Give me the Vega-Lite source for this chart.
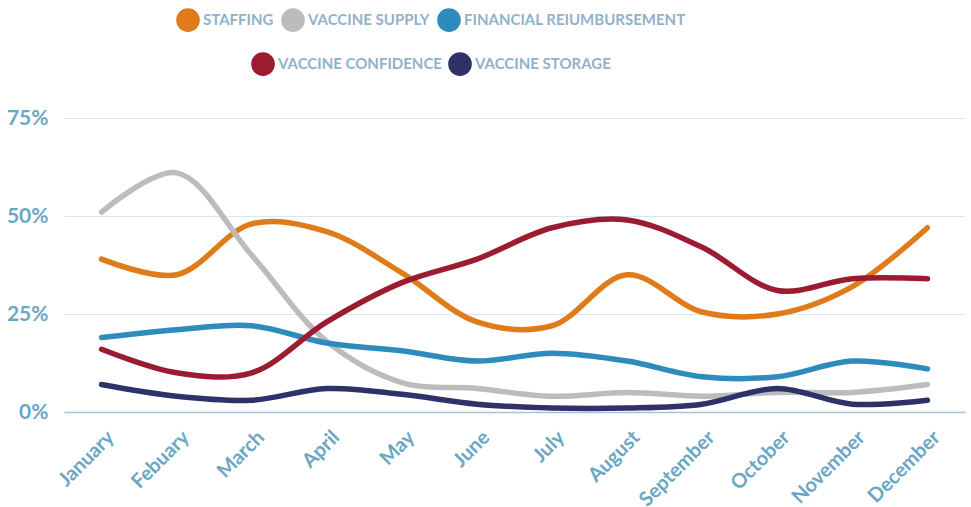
{
  "$schema": "https://vega.github.io/schema/vega-lite/v6.json",
  "width": 901,
  "height": 294,
  "autosize": {"type": "none"},
  "padding": {"left": 64, "top": 118, "right": 6, "bottom": 95},
  "background": "white",
  "config": {
    "font": "Lato",
    "view": {"stroke": null},
    "legend": {
      "labelFont": "Lato",
      "labelFontWeight": "bold",
      "labelFontSize": 15,
      "labelColor": "#8fb2cb",
      "labelLimit": 400,
      "symbolType": "circle",
      "symbolSize": 560,
      "symbolStrokeWidth": 0,
      "symbolOpacity": 1,
      "labelOffset": 3,
      "padding": 0,
      "title": null
    }
  },
  "data": {
    "values": [
      {"month": "January", "series": "STAFFING", "value": 0.39},
      {"month": "Febuary", "series": "STAFFING", "value": 0.35},
      {"month": "March", "series": "STAFFING", "value": 0.48},
      {"month": "April", "series": "STAFFING", "value": 0.46},
      {"month": "May", "series": "STAFFING", "value": 0.355},
      {"month": "June", "series": "STAFFING", "value": 0.23},
      {"month": "July", "series": "STAFFING", "value": 0.22},
      {"month": "August", "series": "STAFFING", "value": 0.35},
      {"month": "September", "series": "STAFFING", "value": 0.255},
      {"month": "October", "series": "STAFFING", "value": 0.25},
      {"month": "November", "series": "STAFFING", "value": 0.32},
      {"month": "December", "series": "STAFFING", "value": 0.47},
      {"month": "January", "series": "VACCINE SUPPLY", "value": 0.51},
      {"month": "Febuary", "series": "VACCINE SUPPLY", "value": 0.61},
      {"month": "March", "series": "VACCINE SUPPLY", "value": 0.40},
      {"month": "April", "series": "VACCINE SUPPLY", "value": 0.18},
      {"month": "May", "series": "VACCINE SUPPLY", "value": 0.075},
      {"month": "June", "series": "VACCINE SUPPLY", "value": 0.06},
      {"month": "July", "series": "VACCINE SUPPLY", "value": 0.04},
      {"month": "August", "series": "VACCINE SUPPLY", "value": 0.05},
      {"month": "September", "series": "VACCINE SUPPLY", "value": 0.04},
      {"month": "October", "series": "VACCINE SUPPLY", "value": 0.05},
      {"month": "November", "series": "VACCINE SUPPLY", "value": 0.05},
      {"month": "December", "series": "VACCINE SUPPLY", "value": 0.07},
      {"month": "January", "series": "FINANCIAL REIUMBURSEMENT", "value": 0.19},
      {"month": "Febuary", "series": "FINANCIAL REIUMBURSEMENT", "value": 0.21},
      {"month": "March", "series": "FINANCIAL REIUMBURSEMENT", "value": 0.22},
      {"month": "April", "series": "FINANCIAL REIUMBURSEMENT", "value": 0.176},
      {"month": "May", "series": "FINANCIAL REIUMBURSEMENT", "value": 0.156},
      {"month": "June", "series": "FINANCIAL REIUMBURSEMENT", "value": 0.13},
      {"month": "July", "series": "FINANCIAL REIUMBURSEMENT", "value": 0.15},
      {"month": "August", "series": "FINANCIAL REIUMBURSEMENT", "value": 0.13},
      {"month": "September", "series": "FINANCIAL REIUMBURSEMENT", "value": 0.09},
      {"month": "October", "series": "FINANCIAL REIUMBURSEMENT", "value": 0.09},
      {"month": "November", "series": "FINANCIAL REIUMBURSEMENT", "value": 0.13},
      {"month": "December", "series": "FINANCIAL REIUMBURSEMENT", "value": 0.11},
      {"month": "January", "series": "VACCINE CONFIDENCE", "value": 0.16},
      {"month": "Febuary", "series": "VACCINE CONFIDENCE", "value": 0.10},
      {"month": "March", "series": "VACCINE CONFIDENCE", "value": 0.10},
      {"month": "April", "series": "VACCINE CONFIDENCE", "value": 0.23},
      {"month": "May", "series": "VACCINE CONFIDENCE", "value": 0.33},
      {"month": "June", "series": "VACCINE CONFIDENCE", "value": 0.39},
      {"month": "July", "series": "VACCINE CONFIDENCE", "value": 0.47},
      {"month": "August", "series": "VACCINE CONFIDENCE", "value": 0.49},
      {"month": "September", "series": "VACCINE CONFIDENCE", "value": 0.42},
      {"month": "October", "series": "VACCINE CONFIDENCE", "value": 0.31},
      {"month": "November", "series": "VACCINE CONFIDENCE", "value": 0.34},
      {"month": "December", "series": "VACCINE CONFIDENCE", "value": 0.34},
      {"month": "January", "series": "VACCINE STORAGE", "value": 0.07},
      {"month": "Febuary", "series": "VACCINE STORAGE", "value": 0.04},
      {"month": "March", "series": "VACCINE STORAGE", "value": 0.03},
      {"month": "April", "series": "VACCINE STORAGE", "value": 0.06},
      {"month": "May", "series": "VACCINE STORAGE", "value": 0.045},
      {"month": "June", "series": "VACCINE STORAGE", "value": 0.02},
      {"month": "July", "series": "VACCINE STORAGE", "value": 0.01},
      {"month": "August", "series": "VACCINE STORAGE", "value": 0.01},
      {"month": "September", "series": "VACCINE STORAGE", "value": 0.02},
      {"month": "October", "series": "VACCINE STORAGE", "value": 0.06},
      {"month": "November", "series": "VACCINE STORAGE", "value": 0.02},
      {"month": "December", "series": "VACCINE STORAGE", "value": 0.03}
    ]
  },
  "encoding": {
    "x": {
      "field": "month",
      "type": "ordinal",
      "sort": ["January", "Febuary", "March", "April", "May", "June", "July", "August", "September", "October", "November", "December"],
      "scale": {"type": "point", "padding": 0.5},
      "axis": {
        "title": null,
        "labelAngle": -45,
        "labelAlign": "right",
        "labelBaseline": "middle",
        "labelFont": "Lato",
        "labelFontWeight": "bold",
        "labelFontSize": 20,
        "labelColor": "#6aa7c4",
        "labelPadding": 22,
        "labelOffset": 9,
        "ticks": false,
        "domainColor": "#a9c3d6",
        "domainWidth": 1.5,
        "grid": false
      }
    },
    "y": {
      "field": "value",
      "type": "quantitative",
      "scale": {"domain": [0, 0.75]},
      "axis": {
        "title": null,
        "values": [0, 0.25, 0.5, 0.75],
        "format": ".0%",
        "labelFont": "Lato",
        "labelFontWeight": "bold",
        "labelFontSize": 21,
        "labelColor": "#6aa7c4",
        "labelPadding": 16,
        "ticks": false,
        "domain": false,
        "grid": true,
        "gridColor": "#dbe7ee",
        "gridWidth": 1
      }
    }
  },
  "layer": [
    {
      "transform": [{"filter": {"field": "series", "oneOf": ["STAFFING", "VACCINE SUPPLY", "FINANCIAL REIUMBURSEMENT"]}}],
      "mark": {"type": "line", "interpolate": "catmull-rom", "strokeWidth": 5.5, "strokeCap": "round", "strokeJoin": "round"},
      "encoding": {
        "color": {
          "field": "series",
          "type": "nominal",
          "scale": {"domain": ["STAFFING", "VACCINE SUPPLY", "FINANCIAL REIUMBURSEMENT"], "range": ["#e07b1a", "#bcbcbc", "#2e8bbd"]},
          "legend": {
            "orient": "none", "direction": "horizontal", "legendX": 112, "legendY": -110, "title": null, "columnPadding": 7,
            "encode": {"symbols": {"update": {"fill": {"signal": "{'STAFFING': '#e07b1a', 'VACCINE SUPPLY': '#bcbcbc', 'FINANCIAL REIUMBURSEMENT': '#2e8bbd'}[datum.value]"}, "fillOpacity": {"value": 1}, "strokeWidth": {"value": 0}}}}
          }
        }
      }
    },
    {
      "transform": [{"filter": {"field": "series", "oneOf": ["VACCINE CONFIDENCE", "VACCINE STORAGE"]}}],
      "mark": {"type": "line", "interpolate": "catmull-rom", "strokeWidth": 5.5, "strokeCap": "round", "strokeJoin": "round"},
      "encoding": {
        "color": {
          "field": "series",
          "type": "nominal",
          "scale": {"domain": ["VACCINE CONFIDENCE", "VACCINE STORAGE"], "range": ["#9b1b30", "#2f3269"]},
          "legend": {
            "orient": "none", "direction": "horizontal", "legendX": 187, "legendY": -66, "title": null, "columnPadding": 6,
            "encode": {"symbols": {"update": {"fill": {"signal": "{'VACCINE CONFIDENCE': '#9b1b30', 'VACCINE STORAGE': '#2f3269'}[datum.value]"}, "fillOpacity": {"value": 1}, "strokeWidth": {"value": 0}}}}
          }
        }
      }
    }
  ],
  "resolve": {"scale": {"color": "independent"}, "legend": {"color": "independent"}}
}
